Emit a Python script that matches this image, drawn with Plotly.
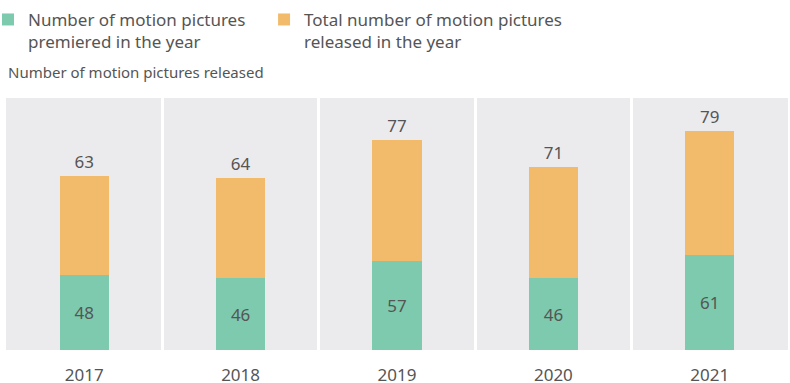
import plotly.graph_objects as go

years = ["2017", "2018", "2019", "2020", "2021"]
premiered = [48, 46, 57, 46, 61]
released_total = [63, 64, 77, 71, 79]

green = "#7ECAAE"
orange = "#F2BB6B"
txt = "#555555"
font_family = "Noto Sans"

fig = go.Figure()
fig.add_trace(go.Bar(
    x=years, y=premiered, name="Number of motion pictures<br>premiered in the year",
    marker=dict(color=green, line=dict(width=0)), width=0.315,
    text=premiered, textposition="inside", insidetextanchor="middle",
    textfont=dict(size=17, color=txt, family=font_family),
    cliponaxis=False, legend="legend",
))
fig.add_trace(go.Bar(
    x=years, y=released_total, name="Total number of motion pictures<br>released in the year",
    marker=dict(color=orange, line=dict(width=0)), width=0.315,
    text=released_total, textposition="outside",
    textfont=dict(size=17, color=txt, family=font_family),
    cliponaxis=False, legend="legend2",
))

leg_common = dict(
    orientation="h", yref="container", y=0.995, yanchor="top", xanchor="left",
    font=dict(size=17, color=txt, family=font_family),
    itemwidth=30, valign="top", bgcolor="rgba(0,0,0,0)",
)

fig.update_layout(
    width=790, height=383,
    barmode="stack",
    margin=dict(l=6, r=2, t=98, b=33, autoexpand=False),
    paper_bgcolor="white",
    plot_bgcolor="#EBEBED",
    font=dict(family=font_family, color=txt, size=17),
    showlegend=True,
    legend=dict(x=-0.023, **leg_common),
    legend2=dict(x=0.33, **leg_common),
    annotations=[dict(
        text="Number of motion pictures released", xref="paper", yref="paper",
        x=0.0, y=1.0, xanchor="left", yanchor="bottom", yshift=14, showarrow=False,
        font=dict(size=15, color=txt, family=font_family),
    )],
)
fig.update_xaxes(
    type="category", tickson="boundaries", showgrid=True, gridcolor="white", gridwidth=3,
    ticks="", ticklabelstandoff=13,
    tickfont=dict(size=17, color=txt, family=font_family),
    showline=False, zeroline=False, automargin=False,
)
fig.update_yaxes(range=[0, 161], showgrid=False, showticklabels=False, zeroline=False,
                 showline=False, automargin=False)

fig.write_html("out.html", config={"displayModeBar": False},
               post_script="document.body.style.margin='0';")
